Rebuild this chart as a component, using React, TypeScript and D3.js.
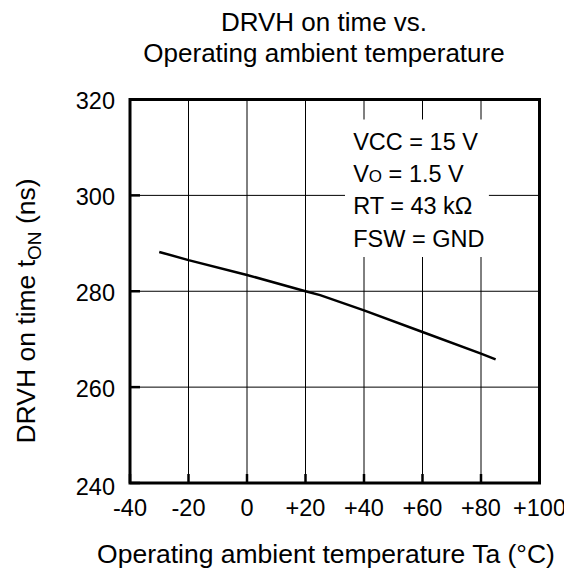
import React, { useEffect, useRef } from 'react';
import * as d3 from 'd3';

// Curve
const temps = [-30, -20, 0, 20, 25, 40, 60, 80, 85];
const onTimes = [288.2, 286.5, 283.4, 280, 279.2, 276, 271.5, 267, 265.8];

const xTicks = [-40, -20, 0, 20, 40, 60, 80, 100];
const yTicks = [240, 260, 280, 300, 320];
const conditions = ['VCC = 15 V', 'VO = 1.5 V', 'RT = 43 kΩ', 'FSW = GND'];

const FONT = 'Liberation Sans, Arial, Helvetica, sans-serif';

export default function App() {
  const svgRef = useRef<SVGSVGElement>(null);

  useEffect(() => {
    if (!svgRef.current) return;
    const svg = d3.select(svgRef.current);
    svg.selectAll('*').remove();

    const margin = { top: 99.5, right: 24.5, bottom: 92, left: 130 };
    const width = 564;
    const height = 575;
    const innerWidth = width - margin.left - margin.right;
    const innerHeight = height - margin.top - margin.bottom;

    const xScale = d3.scaleLinear().domain([-40, 100]).range([0, innerWidth]);
    const yScale = d3.scaleLinear().domain([240, 320]).range([innerHeight, 0]);

    svg.append('rect').attr('width', width).attr('height', height).attr('fill', 'white');

    // Title
    const title = svg.append('text')
      .attr('text-anchor', 'middle')
      .attr('font-family', FONT)
      .attr('font-size', 26)
      .attr('fill', '#000');
    title.append('tspan').attr('x', 324).attr('y', 31).text('DRVH on time vs.');
    title.append('tspan').attr('x', 324).attr('y', 62).text('Operating ambient temperature');

    const g = svg.append('g')
      .attr('transform', `translate(${margin.left},${margin.top})`);

    // Grid
    g.append('g')
      .selectAll('line')
      .data(xTicks.slice(1, -1))
      .enter()
      .append('line')
      .attr('x1', d => xScale(d))
      .attr('x2', d => xScale(d))
      .attr('y1', 0)
      .attr('y2', innerHeight)
      .attr('stroke', '#000')
      .attr('stroke-width', 1);

    g.append('g')
      .selectAll('line')
      .data(yTicks.slice(1, -1))
      .enter()
      .append('line')
      .attr('x1', 0)
      .attr('x2', innerWidth)
      .attr('y1', d => yScale(d))
      .attr('y2', d => yScale(d))
      .attr('stroke', '#000')
      .attr('stroke-width', 1);

    // Condition box (white background hides the grid)
    const boxTop = 20;
    const boxBottom = 157.5;
    g.append('rect')
      .attr('x', xScale(33.5))
      .attr('y', boxTop)
      .attr('width', xScale(82.7) - xScale(33.5))
      .attr('height', boxBottom - boxTop)
      .attr('fill', 'white');

    const cond = g.append('g')
      .attr('font-family', FONT)
      .attr('font-size', 23.5)
      .attr('fill', '#000');
    conditions.forEach((c, i) => {
      const t = cond.append('text')
        .attr('x', xScale(36.3))
        .attr('y', 50.5 + i * 32.2);
      if (c.startsWith('VO')) {
        t.append('tspan').text('V');
        t.append('tspan').attr('font-size', 17).text('O');
        t.append('tspan').text(c.slice(2));
      } else {
        t.text(c);
      }
    });

    // Data line
    const line = d3.line<number>()
      .x((_, i) => xScale(temps[i]))
      .y(d => yScale(d));
    g.append('path')
      .datum(onTimes)
      .attr('fill', 'none')
      .attr('stroke', '#000')
      .attr('stroke-width', 2.5)
      .attr('d', line);

    // Tick marks (inward)
    g.append('g')
      .selectAll('line')
      .data(yTicks)
      .enter()
      .append('line')
      .attr('x1', 0)
      .attr('x2', 10)
      .attr('y1', d => yScale(d))
      .attr('y2', d => yScale(d))
      .attr('stroke', '#000')
      .attr('stroke-width', 2.5);

    g.append('g')
      .selectAll('line')
      .data(xTicks)
      .enter()
      .append('line')
      .attr('x1', d => xScale(d))
      .attr('x2', d => xScale(d))
      .attr('y1', innerHeight)
      .attr('y2', innerHeight - 9)
      .attr('stroke', '#000')
      .attr('stroke-width', 2.5);

    // Frame
    g.append('rect')
      .attr('x', 0)
      .attr('y', 0)
      .attr('width', innerWidth)
      .attr('height', innerHeight)
      .attr('fill', 'none')
      .attr('stroke', '#000')
      .attr('stroke-width', 3);

    // Tick labels
    g.append('g')
      .selectAll('text')
      .data(yTicks)
      .enter()
      .append('text')
      .attr('x', -15)
      .attr('y', d => yScale(d) + (d === 240 ? 12 : 9.5))
      .attr('text-anchor', 'end')
      .attr('font-family', FONT)
      .attr('font-size', 23.5)
      .text(d => String(d));

    g.append('g')
      .selectAll('text')
      .data(xTicks)
      .enter()
      .append('text')
      .attr('x', d => xScale(d))
      .attr('y', innerHeight + 33)
      .attr('text-anchor', 'middle')
      .attr('font-family', FONT)
      .attr('font-size', 23.5)
      .text(d => (d > 0 ? `+${d}` : String(d)));

    // Axis titles
    svg.append('text')
      .attr('x', 326)
      .attr('y', 563)
      .attr('text-anchor', 'middle')
      .attr('font-family', FONT)
      .attr('font-size', 26.5)
      .text('Operating ambient temperature Ta (°C)');

    const yt = svg.append('text')
      .attr('transform', 'translate(35,311) rotate(-90)')
      .attr('text-anchor', 'middle')
      .attr('font-family', FONT)
      .attr('font-size', 26.5);
    yt.append('tspan').text('DRVH on time t');
    yt.append('tspan').attr('font-size', 19).attr('dy', 6).text('ON');
    yt.append('tspan').attr('dy', -6).text(' (ns)');
  }, []);

  return (
    <svg
      ref={svgRef}
      width={564}
      height={575}
      style={{ position: 'absolute', left: 0, top: 0, display: 'block' }}
    />
  );
}
